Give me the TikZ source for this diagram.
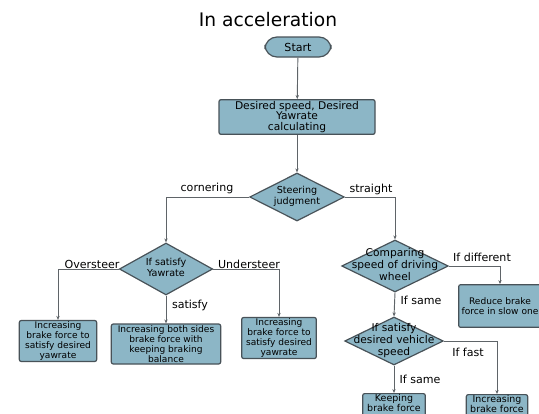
\documentclass[tikz,border=0pt]{standalone}
\usepackage{fontspec}
\setmainfont{DejaVu Sans}
\usetikzlibrary{shapes.geometric,arrows.meta}

\definecolor{boxfill}{RGB}{140,182,198}
\definecolor{boxline}{RGB}{72,82,88}
\definecolor{flowline}{RGB}{95,100,104}

% text of a diamond, kept from widening the shape
\newcommand{\dtxt}[1]{\makebox[0pt]{\begin{tabular}{@{}c@{}}#1\end{tabular}}}
\newcommand{\fs}[2]{\fontsize{#1}{#2}\selectfont}

\tikzset{
  proc/.style={draw=boxline, line width=0.9pt, fill=boxfill, rounded corners=1.5pt, align=center, inner sep=1pt, font=\fs{6.8}{7.4}},
  term/.style={proc, rounded corners=9pt},
  decide/.style={diamond, draw=boxline, line width=0.9pt, fill=boxfill, aspect=2, inner sep=0pt, font=\fs{7.2}{8.2}},
  lab/.style={inner sep=0.75pt, font=\fs{8.3}{9}},
  flow/.style={draw=flowline, line width=0.7pt, -{Stealth[length=3pt,width=2.5pt]}},
  endbox/.style={proc, anchor=north, inner ysep=0.4pt, minimum height=28pt, text depth=18pt, font=\fs{7.1}{7.4}}
}

\begin{document}
\begin{tikzpicture}[x=0.75pt,y=0.75pt,yscale=-1,xscale=1]
    \useasboundingbox (0,0) rectangle (539,414);

    % Title
    \node (title) at (268,20) [inner sep=0pt, font=\fs{14}{16}] {In acceleration};

    % Shapes
    \node (start) at (298,47) [term, minimum width=49.5pt, minimum height=15pt, font=\fs{8.3}{9}] {Start};
    \node (calc) at (297,117) [proc, minimum width=117pt, minimum height=26pt, font=\fs{8}{7.6}] {Desired speed, Desired\\Yawrate\\calculating};
    \node (steer) at (297,197) [decide, minimum width=71pt, minimum height=36pt] {\dtxt{Steering\\judgment}};
    \node (yaw) at (166,269) [decide, minimum width=70pt, minimum height=39pt] {\dtxt{If satisfy\\Yawrate}};
    \node (comp) at (395,266) [decide, minimum width=80pt, minimum height=39pt, font=\fs{8}{9}] {\dtxt{Comparing\\speed of driving\\wheel}};
    \node (vspeed) at (394,341) [decide, minimum width=74pt, minimum height=36pt, font=\fs{8}{9}] {\dtxt{If satisfy\\desired vehicle\\speed}};
    \node (over) at (58,341) [proc, minimum width=58pt, minimum height=30pt] {Increasing\\brake force to\\satisfy desired\\yawrate};
    \node (both) at (166,344) [proc, minimum width=82pt, minimum height=30pt] {Increasing both sides\\brake force with\\keeping braking\\balance};
    \node (under) at (279,338) [proc, minimum width=56pt, minimum height=29pt] {Increasing\\brake force to\\satisfy desired\\yawrate};
    \node (reduce) at (500,306) [proc, minimum width=62pt, minimum height=32pt] {Reduce brake\\force in slow one};
    \node (keep) at (394,393) [endbox, minimum width=47pt] {Keeping\\brake force};
    \node (incr) at (497,394) [endbox, minimum width=46pt] {Increasing\\brake force};

    % Connectors
    \draw [flow] (start) -- (calc);
    \draw [flow] (calc) -- (steer);
    \draw [flow] (steer.west) -| (yaw.north);
    \draw [flow] (steer.east) -| (comp.north);
    \draw [flow] (yaw.west) -| (over.north);
    \draw [flow] (yaw.east) -| (under.north);
    \draw [flow] (yaw.south) -- (both.north);
    \draw [flow] (comp.east) -| (reduce.north);
    \draw [flow] (comp.south) -- (vspeed.north);
    \draw [flow] (vspeed.east) -| (incr.north);
    \draw [flow] (vspeed.south) -- (keep.north);

    % Text Node
    \node (lcorner) at (207,188) [lab] {cornering};
    \node (lstraight) at (371,189) [lab] {straight};
    \node (lover) at (92,264) [lab] {Oversteer};
    \node (lunder) at (249,264) [lab] {Understeer};
    \node (lsat) at (190,305) [lab] {satisfy};
    \node (ldiff) at (482,257) [lab] {If different};
    \node (lsame) at (421,300) [lab] {If same};
    \node (lfast) at (468,352) [lab] {If fast};
    \node (lsame2) at (420,379) [lab] {If same};
\end{tikzpicture}
\end{document}
